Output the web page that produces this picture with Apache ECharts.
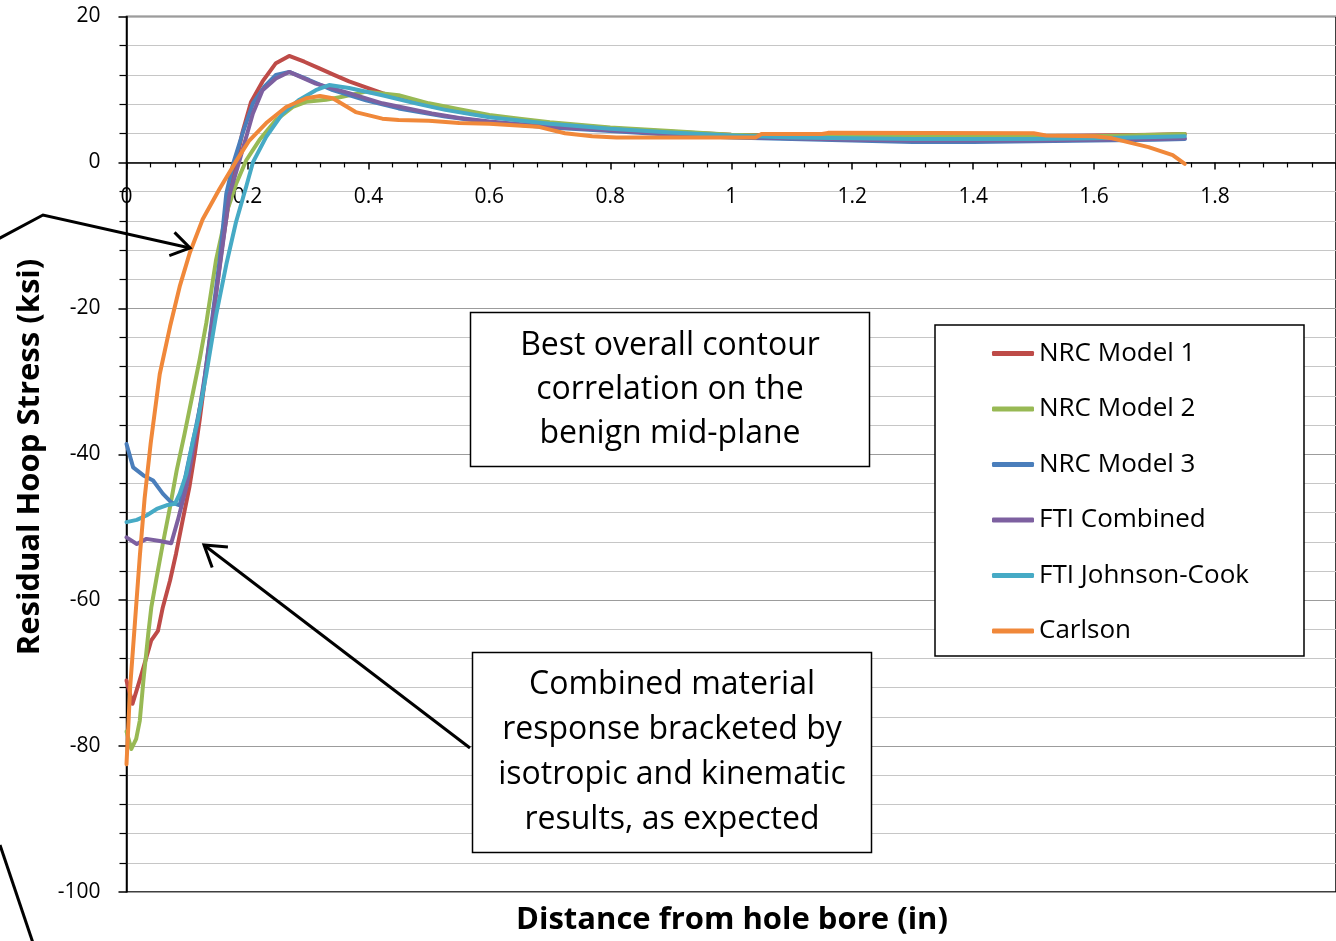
<!DOCTYPE html>
<html>
<head>
<meta charset="utf-8">
<script src="https://cdn.jsdelivr.net/npm/echarts@6.0.0/dist/echarts.min.js"></script>
<style>
  html, body { margin: 0; padding: 0; background: #fff; }
  #chart { width: 1336px; height: 941px; }
</style>
</head>
<body>
<div id="chart"></div>
<script>
// Residual hoop stress (ksi) versus distance from the hole bore (in)
const seriesNames = ['NRC Model 1', 'NRC Model 2', 'NRC Model 3', 'FTI Combined', 'FTI Johnson-Cook', 'Carlson'];

const nrcModel1 = [[0,-71],[0.01,-74.2],[0.025,-70.1],[0.041,-65.5],[0.052,-64.2],[0.06,-61],[0.072,-57.3],[0.082,-53.6],[0.093,-49],[0.104,-44.5],[0.113,-39.9],[0.121,-35.3],[0.137,-25],[0.148,-18],[0.159,-11],[0.17,-5],[0.181,0],[0.192,4.2],[0.206,8.3],[0.225,11.1],[0.247,13.6],[0.269,14.6],[0.294,13.8],[0.319,12.9],[0.343,12.0],[0.368,11.1],[0.396,10.3],[0.423,9.5],[0.465,8.5],[0.505,7.7],[0.55,7.0],[0.6,6.3],[0.65,5.8],[0.7,5.4],[0.8,4.7],[0.9,4.2],[1.0,3.8],[1.1,3.7],[1.2,3.6],[1.3,3.6],[1.4,3.6],[1.5,3.6],[1.6,3.7],[1.7,3.8],[1.75,3.9]];

const nrcModel2 = [[0,-78],[0.008,-80.4],[0.016,-79],[0.022,-76.5],[0.028,-71],[0.036,-64.6],[0.041,-61],[0.05,-56.8],[0.06,-52.3],[0.072,-47.2],[0.083,-42.2],[0.096,-37.2],[0.11,-31.5],[0.121,-27],[0.132,-22],[0.148,-13.4],[0.165,-7],[0.181,-3],[0.198,0.3],[0.22,3.1],[0.247,5.8],[0.275,7.6],[0.297,8.3],[0.33,8.6],[0.357,9.0],[0.396,9.7],[0.45,9.2],[0.5,8.1],[0.55,7.3],[0.6,6.5],[0.65,6.0],[0.7,5.5],[0.8,4.8],[0.9,4.3],[1.0,3.8],[1.1,3.6],[1.2,3.5],[1.3,3.5],[1.4,3.5],[1.5,3.5],[1.6,3.6],[1.7,3.8],[1.75,3.9]];

const nrcModel3 = [[0,-38.6],[0.011,-41.8],[0.028,-42.9],[0.044,-43.6],[0.06,-45.4],[0.074,-46.6],[0.088,-47],[0.1,-42],[0.113,-37],[0.126,-31.7],[0.14,-22.5],[0.154,-13.4],[0.165,-4.3],[0.177,0],[0.192,4.0],[0.209,8.1],[0.228,10.4],[0.247,12.0],[0.269,12.4],[0.302,11.3],[0.341,9.9],[0.396,8.5],[0.45,7.4],[0.527,6.3],[0.6,5.5],[0.7,4.8],[0.8,4.3],[0.9,3.8],[1.0,3.4],[1.1,3.2],[1.2,3.0],[1.3,2.8],[1.4,2.8],[1.5,2.9],[1.6,3.0],[1.7,3.1],[1.75,3.2]];

const ftiCombined = [[0,-51.4],[0.017,-52.3],[0.033,-51.6],[0.055,-51.9],[0.074,-52.2],[0.085,-49],[0.099,-44.5],[0.107,-40.8],[0.118,-35.3],[0.13,-29],[0.144,-20.5],[0.158,-12],[0.17,-4.5],[0.186,0],[0.209,6.7],[0.225,9.9],[0.247,11.5],[0.269,12.4],[0.313,10.8],[0.368,9.5],[0.423,8.1],[0.505,6.7],[0.55,6.1],[0.6,5.6],[0.7,4.9],[0.8,4.4],[0.9,3.9],[1.0,3.5],[1.1,3.3],[1.2,3.1],[1.3,3.0],[1.4,3.0],[1.5,3.0],[1.6,3.1],[1.7,3.2],[1.75,3.3]];

const ftiJohnsonCook = [[0,-49.3],[0.017,-49],[0.033,-48.4],[0.05,-47.5],[0.066,-47],[0.08,-46.8],[0.088,-45.4],[0.099,-42.7],[0.11,-38.1],[0.118,-35.3],[0.132,-29],[0.148,-21],[0.165,-14],[0.181,-8.2],[0.198,-3.3],[0.209,0],[0.231,3.5],[0.258,6.7],[0.286,8.6],[0.313,9.9],[0.335,10.6],[0.368,10.2],[0.423,9.2],[0.478,8.1],[0.527,7.2],[0.6,6.2],[0.7,5.3],[0.8,4.6],[0.9,4.1],[1.0,3.7],[1.1,3.4],[1.2,3.3],[1.3,3.2],[1.4,3.2],[1.5,3.2],[1.6,3.3],[1.7,3.5],[1.75,3.6]];

const carlson = [[0,-82.5],[0.006,-72],[0.014,-63],[0.022,-54],[0.03,-46],[0.04,-38.5],[0.055,-29],[0.072,-22.5],[0.088,-17],[0.105,-12.3],[0.126,-7.8],[0.154,-3.6],[0.18,0],[0.203,3],[0.231,5.4],[0.264,7.6],[0.297,8.8],[0.32,9.1],[0.341,8.8],[0.379,6.9],[0.423,6.0],[0.45,5.8],[0.5,5.7],[0.55,5.4],[0.6,5.3],[0.68,4.9],[0.725,4.0],[0.77,3.6],[0.81,3.4],[0.9,3.4],[1.04,3.4],[1.05,3.9],[1.15,3.9],[1.16,4.05],[1.5,4.0],[1.52,3.7],[1.6,3.6],[1.63,3.3],[1.69,2.1],[1.73,1.0],[1.75,-0.2]];

const seriesData = [nrcModel1, nrcModel2, nrcModel3, ftiCombined, ftiJohnsonCook, carlson];
const seriesColors = ['#BE4B48', '#98B954', '#4A7EBB', '#7D60A0', '#46AAC5', '#F0883A'];

const yTicks = { min: -100, max: 20, step: 20 };
const xTicks = { min: 0, max: 2, step: 0.2 };

const FONT = '"Open Sans", sans-serif';

// plot area
const GRID = { left: 126.5, top: 16.5, width: 1214, height: 875.5 };
// the x axis sits on the zero line: shift it up from the bottom edge
const zeroFromBottom = GRID.height * (0 - yTicks.min) / (yTicks.max - yTicks.min);

// Arrow helper: shaft through the given points, head at the last point
function arrow(points, headLen, id) {
  const n = points.length;
  const [tx, ty] = points[n - 1];
  const [px, py] = points[n - 2];
  const ang = Math.atan2(ty - py, tx - px);
  const spread = Math.PI / 5.5;
  const w1 = [tx - headLen * Math.cos(ang - spread), ty - headLen * Math.sin(ang - spread)];
  const w2 = [tx - headLen * Math.cos(ang + spread), ty - headLen * Math.sin(ang + spread)];
  const style = { stroke: '#000', lineWidth: 3, fill: null, lineJoin: 'miter' };
  return [
    { type: 'polyline', id: id + '-shaft', z: 120, shape: { points: points }, style: style },
    { type: 'polyline', id: id + '-head', z: 120, shape: { points: [w1, [tx, ty], w2] }, style: style }
  ];
}

const chart = echarts.init(document.getElementById('chart'), null, { renderer: 'canvas' });

const option = {
  backgroundColor: '#fff',
  animation: false,
  grid: {
    left: GRID.left, top: GRID.top, width: GRID.width, height: GRID.height,
    show: true, borderColor: '#000', borderWidth: 1.5, backgroundColor: 'transparent'
  },
  xAxis: {
    type: 'value',
    position: 'bottom',
    offset: -zeroFromBottom,
    min: xTicks.min, max: xTicks.max, interval: xTicks.step,
    axisLine: { onZero: false, lineStyle: { color: '#000', width: 1.5 } },
    axisTick: { show: true, length: 7, lineStyle: { color: '#000', width: 1.5 } },
    minorTick: { show: true, splitNumber: 5, length: 5, lineStyle: { color: '#000', width: 1.2 } },
    splitLine: { show: false },
    axisLabel: {
      margin: 24, fontSize: 21, color: '#000', fontFamily: FONT,
      showMaxLabel: false,
      formatter: v => String(Math.round(v * 10) / 10)
    }
  },
  yAxis: {
    type: 'value',
    min: yTicks.min, max: yTicks.max, interval: yTicks.step,
    axisLine: { show: true, onZero: false, lineStyle: { color: '#000', width: 1.5 } },
    axisTick: { show: true, length: 8, lineStyle: { color: '#000', width: 1.5 } },
    minorTick: { show: true, splitNumber: 5, length: 7, lineStyle: { color: '#000', width: 1.2 } },
    splitLine: { show: true, lineStyle: { color: '#9C9C9C', width: 1.2 } },
    minorSplitLine: { show: true, lineStyle: { color: '#C6C6C6', width: 1.2 } },
    axisLabel: { margin: 26, fontSize: 21, color: '#000', fontFamily: FONT }
  },
  legend: {
    orient: 'vertical',
    left: 992, top: 338.5,
    padding: 0,
    z: 200,
    icon: 'roundRect',
    itemWidth: 42, itemHeight: 5,
    itemGap: 25.5,
    textStyle: { fontSize: 26, lineHeight: 30, color: '#000', fontFamily: FONT },
    data: seriesNames
  },
  series: seriesNames.map((name, i) => ({
    name: name,
    type: 'line',
    data: seriesData[i],
    showSymbol: false,
    symbol: 'none',
    smooth: false,
    clip: true,
    z: 3 + i,
    lineStyle: { color: seriesColors[i], width: 4, cap: 'round', join: 'round' },
    itemStyle: { color: seriesColors[i] }
  })),
  graphic: [
    // legend frame
    { type: 'rect', id: 'legend-frame', z: 100, shape: { x: 935, y: 325, width: 369, height: 331 },
      style: { fill: '#fff', stroke: '#000', lineWidth: 1.5 } },
    // callout boxes
    { type: 'rect', id: 'box-top', z: 100, shape: { x: 470.5, y: 312.5, width: 399, height: 154 },
      style: { fill: '#fff', stroke: '#000', lineWidth: 1.5 } },
    { type: 'text', id: 'box-top-text', z: 101, x: 670, y: 390,
      style: { text: 'Best overall contour\ncorrelation on the\nbenign mid-plane', fill: '#000',
        font: '32px ' + FONT, lineHeight: 44, align: 'center', verticalAlign: 'middle' } },
    { type: 'rect', id: 'box-bottom', z: 100, shape: { x: 472.5, y: 652.5, width: 399, height: 200 },
      style: { fill: '#fff', stroke: '#000', lineWidth: 1.5 } },
    { type: 'text', id: 'box-bottom-text', z: 101, x: 672, y: 752,
      style: { text: 'Combined material\nresponse bracketed by\nisotropic and kinematic\nresults, as expected', fill: '#000',
        font: '32px ' + FONT, lineHeight: 45, align: 'center', verticalAlign: 'middle' } },
    // axis titles
    { type: 'text', id: 'y-title', z: 101, x: 30, y: 457, rotation: Math.PI / 2,
      style: { text: 'Residual Hoop Stress (ksi)', fill: '#000', font: 'bold 31px ' + FONT,
        align: 'center', verticalAlign: 'middle' } },
    { type: 'text', id: 'x-title', z: 101, x: 732, y: 920,
      style: { text: 'Distance from hole bore (in)', fill: '#000', font: 'bold 31px ' + FONT,
        align: 'center', verticalAlign: 'middle' } },
    // annotation arrows
    ...arrow([[-2, 239], [43, 215], [190, 248]], 22, 'arrow-upper'),
    ...arrow([[470, 748], [204, 545]], 24, 'arrow-lower'),
    { type: 'polyline', id: 'leader-bottom', z: 120, shape: { points: [[0, 845], [33, 943]] },
      style: { stroke: '#000', lineWidth: 3, fill: null } }
  ]
};

chart.setOption(option);
</script>
</body>
</html>
